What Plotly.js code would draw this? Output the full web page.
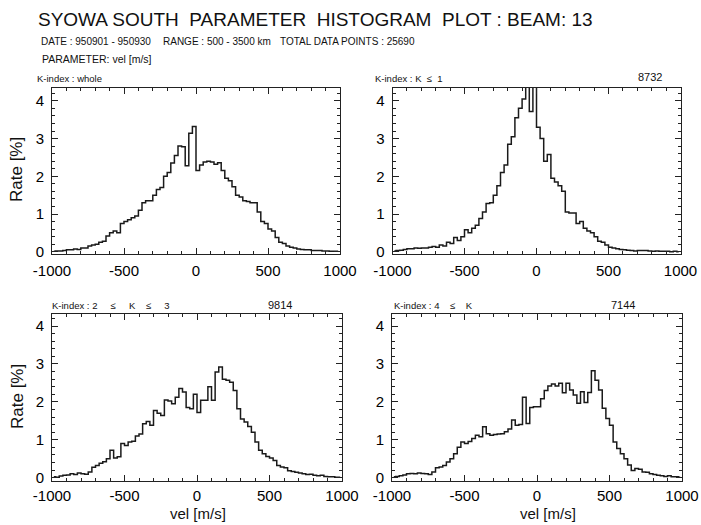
<!DOCTYPE html>
<html><head><meta charset="utf-8">
<script src="https://cdn.plot.ly/plotly-3.0.1.min.js"></script>
<style>html,body{margin:0;padding:0;background:#fff}</style>
</head><body><div id="chart" style="width:701px;height:525px"></div>
<script>
// Velocity histogram, bins of 25 m/s from -1000 to 1000 (first bin centre -987.5)
const binStart = -987.5;
const binStep = 25;

const rateWhole = [
 0.01,0.02,0.02,0.03,0.05, 0.05,0.07,0.06,0.10,0.10,
 0.15,0.18,0.20,0.25,0.28, 0.42,0.50,0.55,0.50,0.75,
 0.80,0.85,0.90,0.95,1.10, 1.30,1.35,1.35,1.50,1.65,
 1.70,2.00,2.10,2.35,2.55, 2.80,2.78,2.28,3.14,3.32,
 2.15,2.30,2.38,2.40,2.38, 2.32,2.36,2.15,1.95,1.88,
 1.72,1.50,1.45,1.35,1.33, 1.30,1.30,1.05,0.80,0.75,
 0.60,0.55,0.38,0.25,0.22, 0.15,0.12,0.10,0.07,0.06,
 0.05,0.05,0.03,0.03,0.03, 0.02,0.02,0.01,0.01,0.01];

const rateK01 = [
 0.02,0.03,0.04,0.06,0.08, 0.08,0.10,0.09,0.10,0.10,
 0.12,0.14,0.12,0.18,0.15, 0.25,0.22,0.38,0.30,0.40,
 0.58,0.50,0.62,0.70,0.88, 1.05,1.28,1.30,1.50,1.75,
 2.10,2.30,2.85,3.05,3.55, 3.80,4.05,4.90,3.72,5.00,
 3.30,3.00,2.40,2.58,1.95, 1.85,1.75,1.60,1.05,1.03,
 1.03,0.75,0.80,0.62,0.55, 0.50,0.40,0.28,0.25,0.18,
 0.12,0.10,0.08,0.06,0.05, 0.04,0.03,0.02,0.03,0.03,
 0.03,0.02,0.01,0.02,0.01, 0.01,0.01,0.00,0.01,0.00];

const rateK23 = [
 0.02,0.01,0.04,0.06,0.07, 0.10,0.08,0.12,0.10,0.09,
 0.15,0.27,0.32,0.38,0.42, 0.50,0.72,0.52,0.55,0.90,
 0.85,0.94,0.96,1.10,1.15, 1.42,1.48,1.38,1.77,1.70,
 1.64,2.05,2.02,1.95,2.12, 2.35,2.26,1.85,1.82,2.20,
 1.72,2.04,2.04,2.40,2.04, 2.79,2.92,2.60,2.57,2.52,
 2.30,1.82,1.55,1.47,1.35, 1.20,0.94,0.72,0.63,0.56,
 0.52,0.45,0.32,0.28,0.26, 0.18,0.16,0.14,0.12,0.10,
 0.08,0.09,0.06,0.05,0.06, 0.03,0.02,0.02,0.01,0.01];

const rateK4 = [
 0.02,0.03,0.05,0.07,0.10, 0.11,0.10,0.12,0.11,0.10,
 0.08,0.15,0.26,0.28,0.32, 0.41,0.50,0.63,0.80,0.94,
 0.90,0.95,1.03,1.12,1.08, 1.34,1.16,1.12,1.14,1.15,
 1.16,1.21,1.28,1.52,1.38, 1.40,2.12,1.43,1.85,1.87,
 1.87,2.08,2.30,2.42,2.47, 2.42,2.49,2.24,2.49,2.31,
 2.18,1.96,2.27,1.98,2.25, 2.82,2.57,2.31,1.83,1.56,
 1.38,0.94,0.77,0.63,0.50, 0.33,0.19,0.24,0.22,0.15,
 0.14,0.10,0.08,0.06,0.05, 0.03,0.05,0.02,0.02,0.01];

const S = '\u00a0';
const panelLabels = [
  'K-index : whole',
  'K-index : K' + S + S + '\u2264' + S + S + '1',
  'K-index : 2' + S.repeat(5) + '\u2264' + S.repeat(5) + 'K' + S.repeat(4) + '\u2264' + S.repeat(5) + '3',
  'K-index : 4' + S.repeat(4) + '\u2264' + S.repeat(4) + 'K'
];
const panelCounts = ['', '8732', '9814', '7144'];
const xTickVals = [-1000, -500, 0, 500, 1000];
const yTickVals = [0, 1, 2, 3, 4];

const W = 701, H = 525;
const px = x => x / W;
const py = y => 1 - y / H;
const FONT = 'Liberation Sans, Arial, Helvetica, sans-serif';

function xa(l, r, anchor, standoff) {
  return {domain:[px(l), px(r)], range:[-1000, 1000], anchor:anchor,
    showgrid:false, zeroline:false, showline:true, mirror:'allticks',
    linecolor:'#222', linewidth:1, ticks:'inside', ticklen:6, tickwidth:1, tickcolor:'#222',
    tickvals:xTickVals, ticktext:xTickVals.map(String), ticklabelstandoff:standoff,
    minor:{ticks:'inside', ticklen:3, tickwidth:1, tickcolor:'#222', dtick:100, tick0:0},
    tickfont:{family:FONT, size:15, color:'#000'}, fixedrange:true};
}
function ya(top, bot, range, anchor) {
  return {domain:[py(bot), py(top)], range:range, anchor:anchor,
    showgrid:false, zeroline:false, showline:true, mirror:'allticks',
    linecolor:'#222', linewidth:1, ticks:'inside', ticklen:6, tickwidth:1, tickcolor:'#222',
    tickvals:yTickVals, ticktext:yTickVals.map(String), ticklabelstandoff:4,
    minor:{ticks:'inside', ticklen:3, tickwidth:1, tickcolor:'#222', dtick:0.2, tick0:0},
    tickfont:{family:FONT, size:15, color:'#000'}, fixedrange:true};
}

function tr(y, xa, ya) {
  return {type:'scatter', mode:'lines', x0:binStart, dx:binStep, y:y, xaxis:xa, yaxis:ya,
    line:{shape:'hvh', color:'#1a1a1a', width:1.5}, hoverinfo:'skip', showlegend:false};
}

const data = [
  tr(rateWhole, 'x', 'y'),
  tr(rateK01, 'x2', 'y2'),
  tr(rateK23, 'x3', 'y3'),
  tr(rateK4, 'x4', 'y4')
];

function ann(text, x, y, size, opts) {
  return Object.assign({xref:'paper', yref:'paper', x:px(x), y:py(y), text:text, showarrow:false,
    xanchor:'left', yanchor:'middle', font:{family:FONT, size:size, color:'#111'}}, opts || {});
}

const annotations = [
  ann('SYOWA SOUTH  PARAMETER  HISTOGRAM  PLOT : BEAM: 13', 36, 20, 19),
  ann('DATE : 950901 - 950930', 39, 42, 10),
  ann('RANGE : 500 - 3500 km', 161, 42, 10),
  ann('TOTAL DATA POINTS : 25690', 278, 42, 10),
  ann('PARAMETER: vel [m/s]', 40, 59, 10.5),
  ann(panelLabels[0], 35, 79, 9.5),
  ann(panelLabels[1], 373, 79, 9.5),
  ann(panelCounts[1], 636, 77, 11),
  ann(panelLabels[2], 50, 305, 9.5),
  ann(panelCounts[2], 266, 305, 11),
  ann(panelLabels[3], 392, 305, 9.5),
  ann(panelCounts[3], 609, 305, 11),
  ann('Rate [%]', 17, 170, 17, {textangle:-90, xanchor:'center'}),
  ann('Rate [%]', 17, 397, 17, {textangle:-90, xanchor:'center'}),
  ann('vel [m/s]', 198, 513, 15, {xanchor:'center'}),
  ann('vel [m/s]', 548, 513, 15, {xanchor:'center'})
];

const layout = {
  width:W, height:H, margin:{l:0, r:0, t:0, b:0},
  paper_bgcolor:'#fff', plot_bgcolor:'#fff', showlegend:false,
  xaxis: xa(52, 340, 'y', 3),   yaxis: ya(88, 254, [-0.06, 4.34], 'x'),
  xaxis2: xa(392.5, 680.5, 'y2', 3), yaxis2: ya(88, 254, [-0.06, 4.34], 'x2'),
  xaxis3: xa(52, 342, 'y3', 1), yaxis3: ya(314, 481, [-0.09, 4.32], 'x3'),
  xaxis4: xa(392, 682, 'y4', 1), yaxis4: ya(314, 481, [-0.09, 4.32], 'x4'),
  annotations: annotations
};

Plotly.newPlot('chart', data, layout, {staticPlot:true, displayModeBar:false});
</script></body></html>
